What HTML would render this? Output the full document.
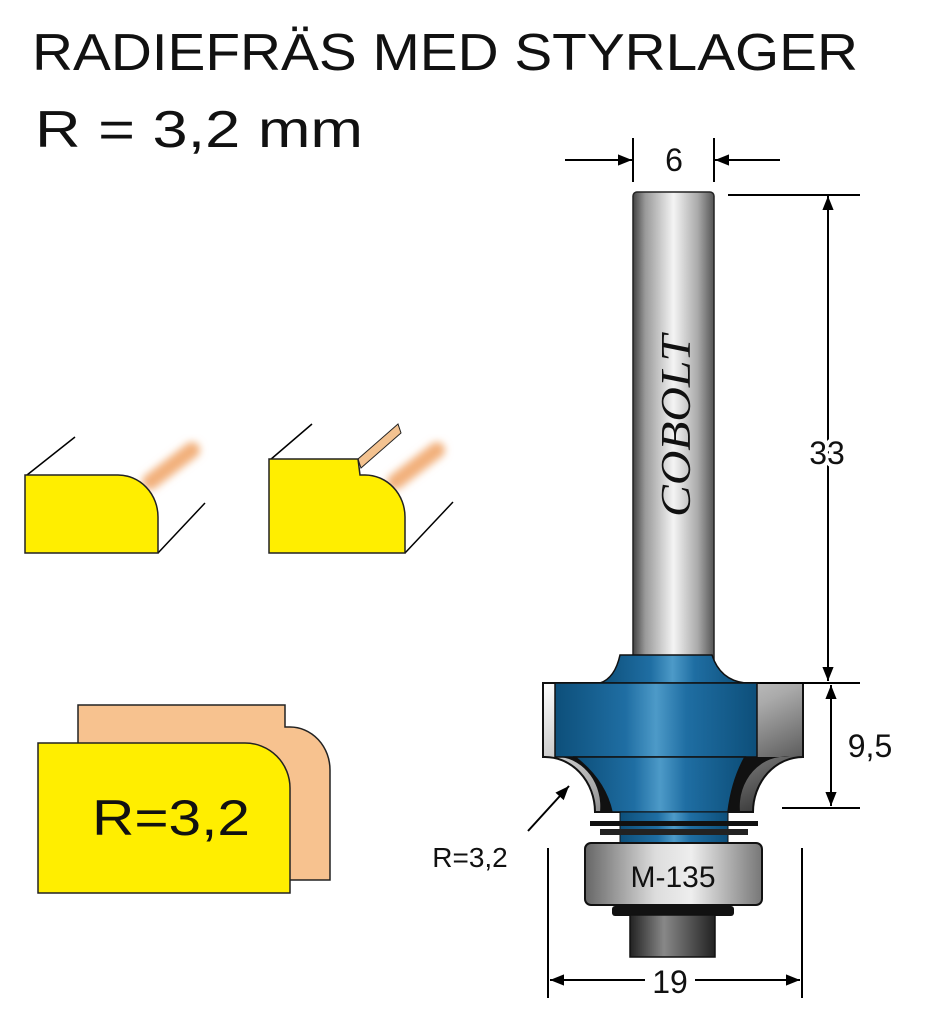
<!DOCTYPE html>
<html><head><meta charset="utf-8"><style>html,body{margin:0;padding:0;background:#fff}svg{display:block}</style></head>
<body>
<svg width="945" height="1024" viewBox="0 0 945 1024" xmlns="http://www.w3.org/2000/svg">
<defs>
<linearGradient id="sh" x1="0" x2="1" y1="0" y2="0">
<stop offset="0" stop-color="#444"/><stop offset="0.15" stop-color="#999"/><stop offset="0.5" stop-color="#f4f4f4"/><stop offset="0.8" stop-color="#aaa"/><stop offset="1" stop-color="#555"/></linearGradient>
<linearGradient id="bl" x1="0" x2="1" y1="0" y2="0">
<stop offset="0" stop-color="#0d4f7a"/><stop offset="0.35" stop-color="#1f6ea3"/><stop offset="0.5" stop-color="#4d9ac8"/><stop offset="0.65" stop-color="#1f6ea3"/><stop offset="1" stop-color="#0d4f7a"/></linearGradient>
<linearGradient id="br" x1="0" x2="1" y1="0" y2="0">
<stop offset="0" stop-color="#666"/><stop offset="0.4" stop-color="#ddd"/><stop offset="0.6" stop-color="#eee"/><stop offset="1" stop-color="#777"/></linearGradient>
<linearGradient id="pin" x1="0" x2="1"><stop offset="0" stop-color="#222"/><stop offset="0.4" stop-color="#888"/><stop offset="1" stop-color="#222"/></linearGradient>
<linearGradient id="sv" x1="0" x2="1" y1="0" y2="1"><stop offset="0" stop-color="#fff"/><stop offset="0.5" stop-color="#aaa"/><stop offset="1" stop-color="#222"/></linearGradient>
<filter id="blur" x="-50%" y="-50%" width="200%" height="200%"><feGaussianBlur stdDeviation="4"/></filter>
<marker id="ar2" viewBox="0 0 10 10" refX="10" refY="5" markerWidth="16" markerHeight="14" orient="auto-start-reverse" markerUnits="userSpaceOnUse"><path d="M0,1 L10,5 L0,9z" fill="#000"/></marker>
</defs>
<g font-family="Liberation Sans, sans-serif" fill="#111">
<text x="32" y="70" font-size="52" textLength="826" lengthAdjust="spacingAndGlyphs">RADIEFRÄS MED STYRLAGER</text>
<text x="35" y="147" font-size="52" textLength="328" lengthAdjust="spacingAndGlyphs">R = 3,2 mm</text>
</g>
<!-- profile 1 -->
<line x1="150" y1="482" x2="192" y2="450" stroke="#f2b07c" stroke-width="16" stroke-linecap="round" filter="url(#blur)"/>
<line x1="27" y1="475" x2="75" y2="437" stroke="#000" stroke-width="1.5"/>
<line x1="158" y1="553" x2="205" y2="503" stroke="#000" stroke-width="1.5"/>
<path d="M25,475 H118 A40,42 0 0 1 158,517 V553 H25Z" fill="#ffee00" stroke="#222" stroke-width="1.5"/>
<!-- profile 2 -->
<line x1="395" y1="482" x2="437" y2="450" stroke="#f2b07c" stroke-width="16" stroke-linecap="round" filter="url(#blur)"/>
<path d="M358,459 L398,424 L401,433 L361,468Z" fill="#f3c290" stroke="#222" stroke-width="1"/>
<line x1="270" y1="460" x2="312" y2="424" stroke="#000" stroke-width="1.5"/>
<line x1="405" y1="553" x2="453" y2="502" stroke="#000" stroke-width="1.5"/>
<path d="M269,459 H358 L360,475 H365 A40,42 0 0 1 405,517 V553 H269Z" fill="#ffee00" stroke="#222" stroke-width="1.5"/>
<!-- big profile -->
<path d="M78,705 H285 V727 H290 A40,43 0 0 1 330,770 V880 H78Z" fill="#f7c28f" stroke="#222" stroke-width="1.5"/>
<path d="M38,743 H245 A45,45 0 0 1 290,788 V893 H38Z" fill="#ffee00" stroke="#222" stroke-width="1.5"/>
<text x="92" y="835" font-family="Liberation Sans, sans-serif" font-size="50" fill="#111" textLength="158" lengthAdjust="spacingAndGlyphs">R=3,2</text>
<!-- shank -->
<rect x="633" y="192" width="81" height="480" rx="4" fill="url(#sh)" stroke="#222" stroke-width="1.5"/>
<text transform="translate(690,517) rotate(-90)" font-family="Liberation Serif, serif" font-style="italic" font-size="42" fill="#111" textLength="182" lengthAdjust="spacingAndGlyphs">COBOLT</text>
<!-- cutter -->
<path d="M543,683 H803 V757 A50,55 0 0 0 753,812 H595 A50,55 0 0 0 543,757Z" fill="url(#sv)" stroke="#111" stroke-width="2"/>
<path d="M560,757 A45,50 0 0 1 600,812 H740 A45,50 0 0 1 790,757Z" fill="#111"/>
<path d="M620,655 H712 Q720,680 745,683 H600 Q615,678 620,655Z" fill="url(#bl)" stroke="#111" stroke-width="1.5"/>
<rect x="555" y="683" width="202" height="74" fill="url(#bl)" stroke="#111" stroke-width="1.5"/>
<path d="M575,757 H745 Q732,780 728,812 H612 Q605,780 575,757Z" fill="url(#bl)" stroke="#111" stroke-width="1.5"/>
<rect x="620" y="812" width="108" height="32" fill="url(#bl)" stroke="#111" stroke-width="1"/>
<rect x="590" y="821" width="168" height="5" fill="#111"/>
<rect x="600" y="829" width="148" height="6" fill="#222"/>
<rect x="585" y="843" width="177" height="62" rx="6" fill="url(#br)" stroke="#111" stroke-width="2"/>
<text x="673" y="887" font-family="Liberation Sans, sans-serif" font-size="30" text-anchor="middle" fill="#111">M-135</text>
<rect x="612" y="906" width="122" height="10" rx="3" fill="#111"/>
<rect x="630" y="915" width="85" height="42" fill="url(#pin)" stroke="#111" stroke-width="1.5"/>
<!-- dims -->
<g stroke="#000" stroke-width="2" fill="none">
<line x1="633" y1="138" x2="633" y2="182"/><line x1="714" y1="138" x2="714" y2="182"/>
<line x1="565" y1="160" x2="632" y2="160" marker-end="url(#ar2)"/>
<line x1="780" y1="160" x2="715" y2="160" marker-end="url(#ar2)"/>
<line x1="728" y1="195" x2="860" y2="195"/>
<line x1="828" y1="196" x2="828" y2="681" marker-start="url(#ar2)" marker-end="url(#ar2)"/>
<line x1="760" y1="683" x2="860" y2="683"/>
<line x1="782" y1="808" x2="860" y2="808"/>
<line x1="831" y1="685" x2="831" y2="806" marker-start="url(#ar2)" marker-end="url(#ar2)"/>
<line x1="548" y1="848" x2="548" y2="998"/><line x1="802" y1="848" x2="802" y2="998"/>
<line x1="550" y1="980" x2="645" y2="980" marker-start="url(#ar2)"/>
<line x1="695" y1="980" x2="800" y2="980" marker-end="url(#ar2)"/>
<line x1="528" y1="831" x2="569" y2="786" marker-end="url(#ar2)"/>
</g>
<g font-family="Liberation Sans, sans-serif" fill="#111">
<text x="674" y="171" font-size="32" text-anchor="middle">6</text>
<text x="827" y="464" font-size="32" text-anchor="middle" fill="#111" style="paint-order:stroke" stroke="#fff" stroke-width="8">33</text>
<text x="870" y="757" font-size="32" text-anchor="middle">9,5</text>
<text x="670" y="993" font-size="32" text-anchor="middle">19</text>
<text x="470" y="867" font-size="28" text-anchor="middle">R=3,2</text>
</g>
</svg>
</body></html>
